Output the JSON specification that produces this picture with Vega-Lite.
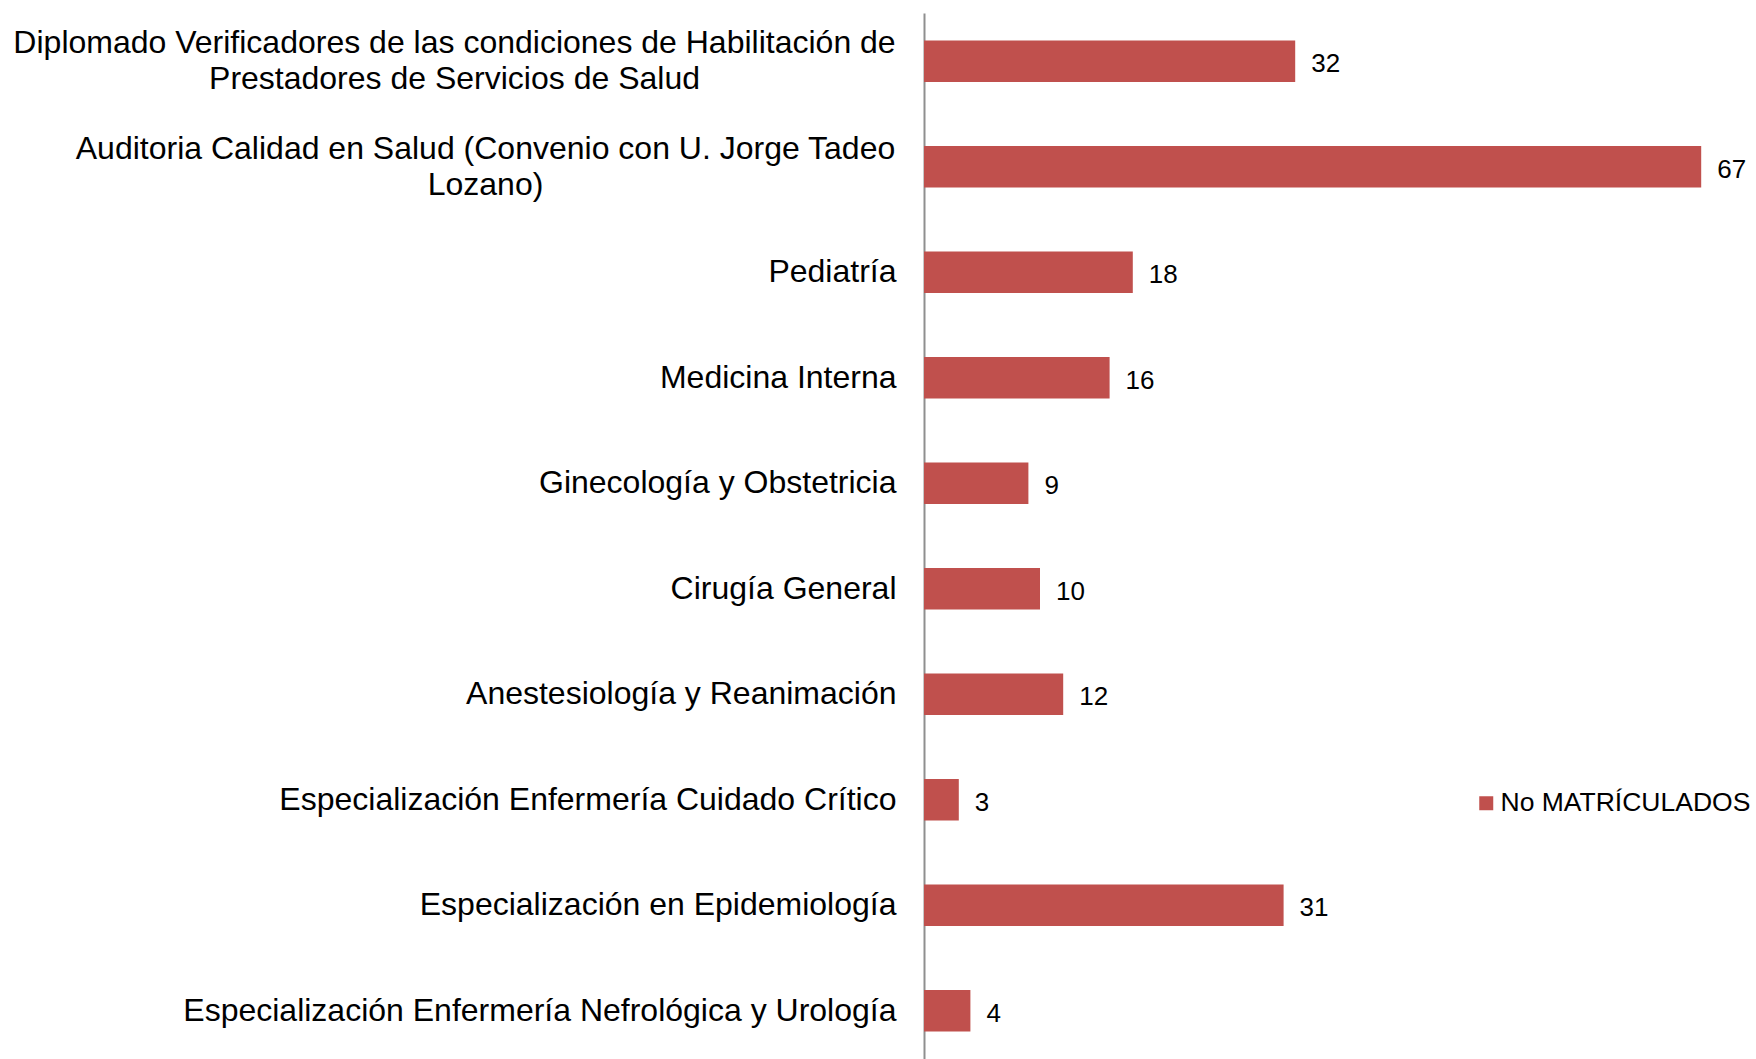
{
  "$schema": "https://vega.github.io/schema/vega-lite/v6.json",
  "autosize": {"type": "none"},
  "padding": {"left": 924, "top": 13, "right": 20, "bottom": 0},
  "width": 812,
  "height": 1046,
  "background": "white",
  "config": {"view": {"stroke": null}, "font": "Liberation Sans"},
  "data": {"values": [
    {"programa": "Diplomado Verificadores de las condiciones de Habilitación de\nPrestadores de Servicios de Salud", "valor": 32, "serie": "No MATRÍCULADOS"},
    {"programa": "Auditoria Calidad en Salud (Convenio con U. Jorge Tadeo\nLozano)", "valor": 67, "serie": "No MATRÍCULADOS"},
    {"programa": "Pediatría", "valor": 18, "serie": "No MATRÍCULADOS"},
    {"programa": "Medicina Interna", "valor": 16, "serie": "No MATRÍCULADOS"},
    {"programa": "Ginecología y Obstetricia", "valor": 9, "serie": "No MATRÍCULADOS"},
    {"programa": "Cirugía General", "valor": 10, "serie": "No MATRÍCULADOS"},
    {"programa": "Anestesiología y Reanimación", "valor": 12, "serie": "No MATRÍCULADOS"},
    {"programa": "Especialización Enfermería Cuidado Crítico", "valor": 3, "serie": "No MATRÍCULADOS"},
    {"programa": "Especialización en Epidemiología", "valor": 31, "serie": "No MATRÍCULADOS"},
    {"programa": "Especialización Enfermería Nefrológica y Urología", "valor": 4, "serie": "No MATRÍCULADOS"}
  ]},
  "encoding": {
    "y": {
      "field": "programa", "type": "nominal", "sort": null,
      "scale": {"paddingInner": 0.606, "paddingOuter": 0.26},
      "axis": {
        "title": null, "ticks": false, "grid": false,
        "domainColor": "#8f8f8f", "domainWidth": 2,
        "labelFont": "Liberation Sans", "labelFontSize": 32, "labelColor": "#000000",
        "labelLimit": 0, "labelLineHeight": 36,
        "labelExpr": "split(datum.label, '\\n')",
        "labelAlign": {"condition": {"test": "indexof(datum.value, '\\n') >= 0", "value": "center"}, "value": "right"},
        "labelOffset": {"condition": {"test": "indexof(datum.value, '\\n') >= 0", "value": -18}, "value": 0},
        "labelPadding": {"condition": [
          {"test": "indexof(datum.value, 'Diplomado') == 0", "value": 470},
          {"test": "indexof(datum.value, 'Auditoria') == 0", "value": 439}
        ], "value": 28}
      }
    },
    "x": {
      "field": "valor", "type": "quantitative",
      "scale": {"domain": [0, 70], "nice": false},
      "axis": null
    }
  },
  "layer": [
    {
      "mark": {"type": "bar"},
      "encoding": {
        "color": {
          "field": "serie", "type": "nominal",
          "scale": {"range": ["#C0504D"]},
          "legend": {
            "title": null, "orient": "none", "legendX": 549, "legendY": 777,
            "symbolType": "square", "symbolSize": 196, "symbolStrokeWidth": 0,
            "labelFont": "Liberation Sans", "labelFontSize": 26.5, "labelColor": "#000000",
            "labelOffset": 1, "labelLimit": 0
          }
        }
      }
    },
    {
      "mark": {"type": "text", "align": "left", "baseline": "middle", "dx": 16, "dy": 3, "fontSize": 26, "font": "Liberation Sans", "color": "#000000"},
      "encoding": {"text": {"field": "valor", "type": "quantitative"}}
    }
  ]
}
